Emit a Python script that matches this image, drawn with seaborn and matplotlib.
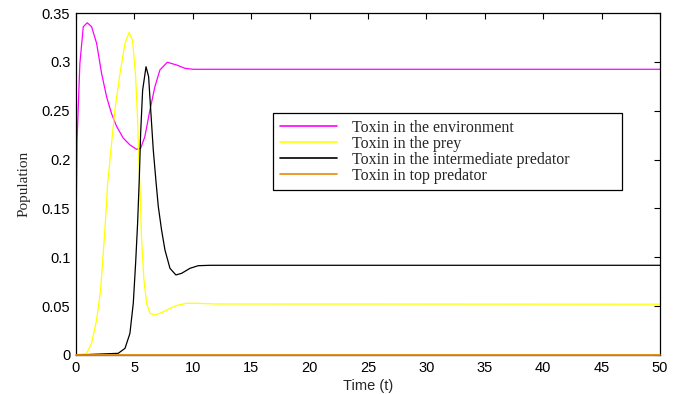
import numpy as np
import pandas as pd
import matplotlib
matplotlib.use("Agg")
import matplotlib.pyplot as plt
import seaborn as sns

# values
env_t = [0, 0.03, 0.1, 0.2, 0.34, 0.63, 0.97, 1.34, 1.77, 2.2, 2.63, 3.05, 3.48,
         4.05, 4.62, 5.19, 5.54, 5.9, 6.34, 6.76, 7.19, 7.82, 8.62, 9.33, 10.04, 50]
env_y = [0, 0.15, 0.22, 0.254, 0.2986, 0.336, 0.340, 0.336, 0.319, 0.288, 0.264,
         0.247, 0.234, 0.222, 0.215, 0.2105, 0.2115, 0.2235, 0.251, 0.2746, 0.2917,
         0.2996, 0.2968, 0.2934, 0.2924, 0.2924]

prey_t = [0, 0.91, 1.34, 1.77, 2.11, 2.34, 2.57, 2.71, 3.05, 3.34, 3.77, 4.2, 4.54,
          4.85, 5.11, 5.28, 5.39, 5.48, 5.62, 5.82, 6.05, 6.34, 6.76, 7.33, 8.05,
          8.76, 9.48, 10.33, 12, 50]
prey_y = [0, 0.0017, 0.012, 0.036, 0.0665, 0.104, 0.145, 0.175, 0.2167, 0.251,
          0.288, 0.319, 0.330, 0.322, 0.285, 0.2405, 0.196, 0.172, 0.118, 0.077,
          0.053, 0.0426, 0.041, 0.0433, 0.0477, 0.0512, 0.0529, 0.0529, 0.0522, 0.052]

inter_t = [0, 3.62, 4.2, 4.62, 4.91, 5.11, 5.28, 5.42, 5.54, 5.71, 6.0, 6.22, 6.4,
           6.62, 6.85, 7.05, 7.33, 7.62, 8.05, 8.56, 9.05, 9.76, 10.47, 11.5, 50]
inter_y = [0, 0.0017, 0.0068, 0.022, 0.053, 0.094, 0.135, 0.179, 0.227, 0.271,
           0.295, 0.285, 0.251, 0.21, 0.178, 0.152, 0.128, 0.1075, 0.0887, 0.0819,
           0.0836, 0.0887, 0.0914, 0.0918, 0.0918]

top_t = [0, 50]
top_y = [0, 0]

labels = ["Toxin in the environment", "Toxin in the prey",
          "Toxin in the intermediate predator", "Toxin in top predator"]
colors = ["#ff00ff", "#ffff00", "#000000", "#e68a00"]

sns.set_style("white")
plt.rcParams["font.family"] = ["Liberation Sans", "DejaVu Sans"]

fig = plt.figure(figsize=(6.84, 3.94), dpi=100)
ax = fig.add_axes([0.111, 0.099, 0.854, 0.868])

series = [(env_t, env_y), (prey_t, prey_y), (inter_t, inter_y), (top_t, top_y)]
for (t, y), lab, c in zip(series, labels, colors):
    df = pd.DataFrame({"t": t, "y": y})
    sns.lineplot(data=df, x="t", y="y", color=c, lw=0.9, label=lab, ax=ax)

# top predator line sits on the x axis, drawn over the spine
ax.lines[-1].set_zorder(5)
ax.lines[-1].set_clip_on(False)
ax.lines[-1].set_linewidth(1.3)

ax.set_xlim(0, 50)
ax.set_ylim(0, 0.35)
ax.set_xticks(np.arange(0, 51, 5))
ax.set_yticks(np.arange(0, 0.351, 0.05))
ax.set_yticklabels(["0", "0.05", "0.1", "0.15", "0.2", "0.25", "0.3", "0.35"])
ax.tick_params(direction="in", length=4, width=0.8, top=True, right=True,
               labelsize=10.5, colors="black", pad=4)
for s in ax.spines.values():
    s.set_visible(True)
    s.set_color("black")
    s.set_linewidth(0.9)

ax.set_xlabel("Time (t)", fontsize=10.5, labelpad=3)
ax.set_ylabel("Population", fontsize=11, family=["Liberation Serif"], labelpad=8)

leg = ax.legend(loc="upper left", bbox_to_anchor=(0.338, 0.707, 0.596, 0.0),
                mode="expand", borderaxespad=0,
                fancybox=False, edgecolor="black", framealpha=1,
                prop={"family": "Liberation Serif", "size": 11.5},
                handlelength=3.6, labelspacing=0.0, borderpad=0.4,
                handletextpad=0.9)
leg.get_frame().set_linewidth(0.9)
for h in leg.get_lines():
    h.set_linewidth(1.2)

fig.savefig("out.png", dpi=100)
